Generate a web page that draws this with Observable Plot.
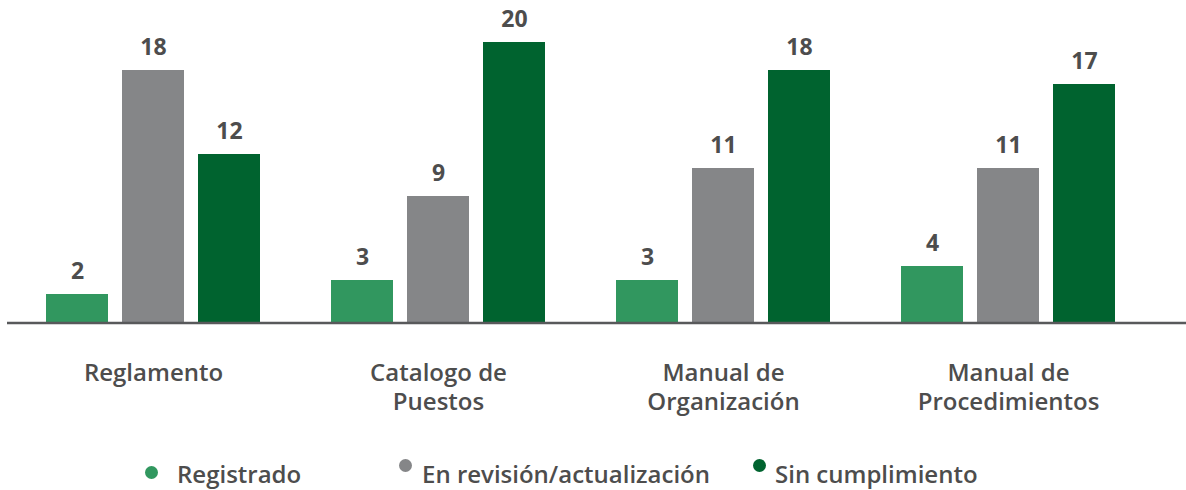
<!DOCTYPE html>
<html>
<head>
<meta charset="utf-8">
<script src="https://cdn.jsdelivr.net/npm/d3@7"></script>
<script src="https://cdn.jsdelivr.net/npm/@observablehq/plot@0.6"></script>
<style>
  html, body { margin: 0; padding: 0; background: #fff; }
  #wrap { position: relative; width: 1186px; height: 490px; font-family: "Open Sans", "Noto Sans", sans-serif; }
  #legend { position: absolute; left: 0; top: 420px; width: 1186px; height: 70px; }
  .item { position: absolute; top: 39px; font-size: 24px; font-weight: 600; color: #4d4d4d; line-height: 30px; white-space: nowrap; }
  .dot { position: absolute; width: 13px; height: 13px; border-radius: 50%; }
</style>
</head>
<body>
<div id="wrap"><div id="chart"></div><div id="legend"></div></div>
<script>
const categories = ["Reglamento", "Catalogo de\nPuestos", "Manual de\nOrganización", "Manual de\nProcedimientos"];
const series = ["Registrado", "En revisión/actualización", "Sin cumplimiento"];
const registrado = [2, 3, 3, 4];
const enRevision = [18, 9, 11, 11];
const sinCumplimiento = [12, 20, 18, 17];
const colors = ["#31975f", "#858688", "#00632f"];

const seriesValues = [registrado, enRevision, sinCumplimiento];
const data = [];
categories.forEach((c, i) => {
  series.forEach((s, j) => data.push({category: c, series: s, value: seriesValues[j][i]}));
});

const textColor = "#4d4d4d";
const chart = Plot.plot({
  width: 1186,
  height: 420,
  marginLeft: 39,
  marginRight: 64,
  marginTop: 42,
  marginBottom: 98,
  style: {fontFamily: "'Open Sans', 'Noto Sans', sans-serif", background: "#fff"},
  fx: {domain: categories, paddingInner: 0.2, paddingOuter: 0, label: null, axis: null},
  x: {domain: series, paddingInner: 0.184, paddingOuter: 0.092, axis: null},
  y: {domain: [0, 20], axis: null},
  color: {domain: series, range: colors},
  marks: [
    Plot.barY(data, {fx: "category", x: "series", y: "value", fill: "series"}),
    Plot.text(data, {fx: "category", x: "series", y: "value", text: d => String(d.value),
      lineAnchor: "bottom", dy: -16, fontSize: 23, fontWeight: 700, fill: textColor}),
    Plot.axisFx({anchor: "bottom", tickSize: 0, tickPadding: 38, fontSize: 24, fontWeight: 600,
      fill: textColor, lineHeight: 1.2, label: null})
  ]
});
document.getElementById("chart").appendChild(chart);

// full-width baseline drawn at y = 0 through the chart's y scale
const y0 = chart.scale("y").apply(0);
d3.select(chart).append("line")
  .attr("x1", 7).attr("x2", 1186)
  .attr("y1", y0 + 1).attr("y2", y0 + 1)
  .attr("stroke", "#58595b").attr("stroke-width", 2.5);

// legend
const legendPos = [{dot: 145, text: 177, top: 46}, {dot: 399, text: 422, top: 39}, {dot: 753, text: 775, top: 39}];
const legend = document.getElementById("legend");
series.forEach((s, i) => {
  const p = legendPos[i];
  const dot = document.createElement("div");
  dot.className = "dot";
  dot.style.background = colors[i];
  dot.style.left = p.dot + "px";
  dot.style.top = p.top + "px";
  legend.appendChild(dot);
  const t = document.createElement("div");
  t.className = "item";
  t.style.left = p.text + "px";
  t.textContent = s;
  legend.appendChild(t);
});
</script>
</body>
</html>
